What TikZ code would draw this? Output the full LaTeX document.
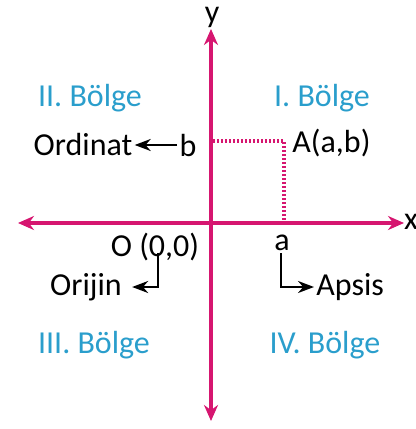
\documentclass[tikz,border=0pt]{standalone}
\usepackage{fontspec}
\setmainfont{Carlito}
\usetikzlibrary{arrows.meta, positioning}
\definecolor{axiscol}{RGB}{214,22,112}
\definecolor{regioncol}{RGB}{42,158,204}

\begin{document}
\begin{tikzpicture}[
        x=0.5pt, y=-0.5pt,
        every node/.style={font=\fontsize{16}{19}\selectfont, inner sep=1pt},
        region/.style={text=regioncol},
        axis/.style={draw=axiscol, line width=2pt, {Stealth[length=8pt,width=7pt]}-{Stealth[length=8pt,width=7pt]}},
        guide/.style={draw=axiscol, line width=1.6pt, dash pattern=on 1pt off 1pt},
        pointer/.style={draw=black, line width=1.2pt, -{Stealth[length=8pt,width=6pt]}},
        >=Stealth]

    \useasboundingbox (0,0) rectangle (416,429);

    % axes
    \coordinate (xl) at (18,223);
    \coordinate (xr) at (404,223);
    \coordinate (yt) at (211,29);
    \coordinate (yb) at (211,421);
    \draw[axis] (xl) -- (xr);
    \draw[axis] (yb) -- (yt);
    \node[anchor=base] (ylab) at (212,22) {y};
    \node (xlab) at (411,222) {x};

    % point A
    \coordinate (A) at (284,141);
    \coordinate (Ay) at (213,141);
    \coordinate (Ax) at (284,221);
    \draw[guide] (Ay) -- (A) -- (Ax);
    \node[anchor=west] (Alab) at (290,143) {A(a,b)};

    \node (b) at (188,145) {b};
    \node (ord) at (83,145) {Ordinat};
    \draw[pointer] (b) -- (ord);

    \node (orig) at (155,247) {O (0,0)};
    \node (orj) at (86,287) {Orijin};
    \coordinate (ot) at (158,253);
    \draw[pointer, shorten >=4pt] (ot) |- (orj);

    \node (a) at (282,243) {a};
    \node[anchor=west] (aps) at (314,287) {Apsis};
    \coordinate (at) at (281,253);
    \draw[pointer] (at) |- (aps);

    % regions
    \node[region] (r2) at (90,98) {II. Bölge};
    \node[region] (r1) at (322,98) {I. Bölge};
    \node[region] (r3) at (94,345) {III. Bölge};
    \node[region] (r4) at (325,345) {IV. Bölge};

\end{tikzpicture}
\end{document}
